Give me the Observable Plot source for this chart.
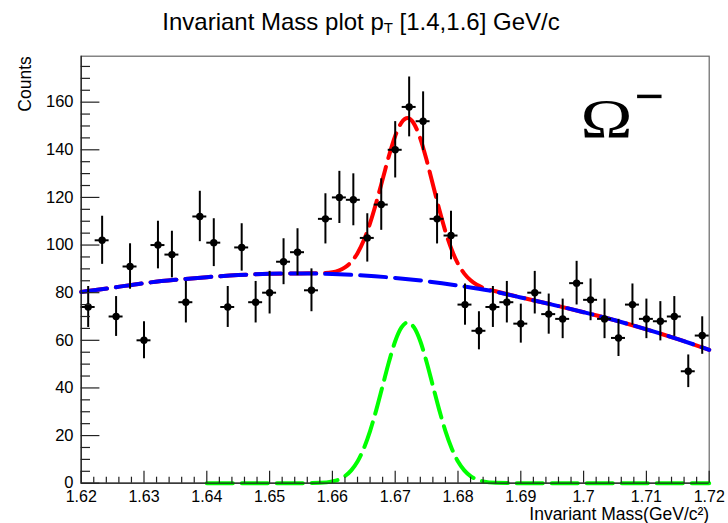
<!DOCTYPE html>
<html><head><meta charset="utf-8">
<script src="https://cdn.jsdelivr.net/npm/d3@7"></script>
<script src="https://cdn.jsdelivr.net/npm/@observablehq/plot@0.6"></script>
<style>body{margin:0;background:#fff} #chart{width:728px;height:523px}</style>
</head><body><div id="chart"></div>
<script>
// ---- data ----
const binLow = 1.62, binHigh = 1.72;
const counts = [74,102,70,91,60,100,96,76,112,101,74,99,76,80,93,97,81,111,120,119,103,117,140,158,152,111,104,75,64,74,76,67,80,71,69,84,77,69,61,75,69,68,70,47,62];

const bkgX = [1.620,1.625,1.630,1.635,1.640,1.645,1.650,1.655,1.660,1.665,1.670,1.675,1.680,1.685,1.690,1.695,1.700,1.705,1.710,1.715,1.720];
const bkgY = [80.3,82.1,84.0,85.4,86.5,87.4,87.9,88.1,87.8,87.2,86.2,84.8,83.0,80.9,78.0,75.0,71.8,68.4,64.6,60.5,56.0];

const totX = [1.620,1.625,1.630,1.635,1.640,1.645,1.650,1.655,1.658,1.660,1.661,1.662,1.663,1.664,1.665,1.666,1.667,1.668,1.669,1.670,1.671,1.672,1.673,1.674,1.675,1.676,1.677,1.678,1.679,1.680,1.681,1.682,1.683,1.684,1.686,1.690,1.695,1.700,1.705,1.710,1.715,1.720];
const totY = [80.3,82.1,84.0,85.4,86.5,87.4,87.9,88.1,88.2,88.6,89.3,90.6,92.9,96.6,102.0,109.2,118.0,127.6,137.4,145.8,151.4,153.3,150.9,144.7,135.7,125.4,115.1,105.7,98.0,92.1,88.0,85.2,83.3,82.1,80.6,78.0,75.0,71.8,68.4,64.6,60.5,56.0];

const sigX = [1.640,1.645,1.650,1.655,1.658,1.660,1.661,1.662,1.663,1.664,1.665,1.666,1.667,1.668,1.669,1.670,1.671,1.672,1.673,1.674,1.675,1.676,1.677,1.678,1.679,1.680,1.681,1.682,1.683,1.684,1.686,1.690,1.695,1.700,1.705,1.710,1.715,1.720];
const sigY = [0,0,0,0.02,0.15,0.75,1.5,3.0,5.4,9.1,14.6,21.9,30.9,40.9,50.9,59.6,65.4,67.5,65.4,59.6,50.9,40.9,30.9,21.9,14.6,9.1,5.4,3.0,1.5,0.75,0.15,0,0,0,0,0,0,0];

const xMajor = [1.62,1.63,1.64,1.65,1.66,1.67,1.68,1.69,1.70,1.71,1.72];
const xMajorLabels = ["1.62","1.63","1.64","1.65","1.66","1.67","1.68","1.69","1.7","1.71","1.72"];
const yMajor = [0,20,40,60,80,100,120,140,160];
const yMajorLabels = ["0","20","40","60","80","100","120","140","160"];

const titleText = "Invariant Mass plot p";
const titleSub = "T";
const titleRest = " [1.4,1.6] GeV/c";
const xTitle = "Invariant Mass(GeV/c²)";
const yTitle = "Counts";

// ---- derived tables ----
const w = (binHigh - binLow) / counts.length;
const bins = counts.map((n, i) => ({lo: binLow + i * w, hi: binLow + (i + 1) * w, mid: binLow + (i + 0.5) * w, n, err: Math.sqrt(n)}));
const bkg = bkgX.map((x, i) => ({x, y: bkgY[i]}));
const tot = totX.map((x, i) => ({x, y: totY[i]}));
const sig = sigX.map((x, i) => ({x, y: sigY[i]}));
const xMinor = d3.range(51).map(i => binLow + i * 0.002).filter((d, i) => i % 5 !== 0);
const yMinor = d3.range(0, 180, 5).filter(d => d % 20 !== 0);

const dash = "26,9";
const plot = Plot.plot({
  width: 728, height: 523,
  marginLeft: 80.7, marginRight: 19.3, marginTop: 55.7, marginBottom: 40.3,
  style: {fontFamily: "'Liberation Sans', Arial, sans-serif", fontSize: "16px", color: "#000", background: "#fff"},
  x: {domain: [binLow, binHigh]},
  y: {domain: [0, 179.3]},
  marks: [
    Plot.frame({stroke: "#666", strokeWidth: 1.2}),
    Plot.line(tot, {x: "x", y: "y", stroke: "#ff0000", strokeWidth: 4, strokeDasharray: dash, curve: "monotone-x"}),
    Plot.line(bkg, {x: "x", y: "y", stroke: "#0000ff", strokeWidth: 4, strokeDasharray: dash, curve: "monotone-x"}),
    Plot.line(sig, {x: "x", y: "y", stroke: "#00ff00", strokeWidth: 4, strokeDasharray: dash, curve: "monotone-x"}),
    Plot.ruleX(bins, {x: "mid", y1: d => d.n - d.err, y2: d => d.n + d.err, stroke: "#000", strokeWidth: 2}),
    Plot.ruleY(bins, {y: "n", x1: "lo", x2: "hi", stroke: "#000", strokeWidth: 2}),
    Plot.dot(bins, {x: "mid", y: "n", r: 3.7, fill: "#000", stroke: null}),
    Plot.axisX(xMinor, {tickSize: -6, tickFormat: () => "", label: null, stroke: "#222", strokeWidth: 1.2}),
    Plot.axisX(xMajor, {tickSize: -12, tickPadding: 19.5, tickFormat: (d, i) => xMajorLabels[i], label: null, fontSize: 16, stroke: "#222", strokeWidth: 1.2}),
    Plot.axisY(yMinor, {tickSize: -9.3, tickFormat: () => "", label: null, stroke: "#222", strokeWidth: 1.2}),
    Plot.axisY(yMajor, {tickSize: -18.7, tickPadding: 26.4, tickFormat: (d, i) => yMajorLabels[i], label: null, fontSize: 16.5, stroke: "#222", strokeWidth: 1.2}),
    Plot.ruleY([0], {stroke: "#222", strokeWidth: 1.3}),
    Plot.ruleX([binLow], {stroke: "#222", strokeWidth: 1.3}),
    Plot.text([xTitle], {text: d => d, frameAnchor: "bottom-right", dy: 36.5, textAnchor: "end", lineAnchor: "bottom", fontSize: 17.5}),
    Plot.text([yTitle], {text: d => d, frameAnchor: "top-left", dx: -50, textAnchor: "end", lineAnchor: "bottom", rotate: -90, fontSize: 17.5}),
    Plot.text(["Ω"], {text: d => d, frameAnchor: "top-left", dx: 499.3, dy: 81, textAnchor: "start", lineAnchor: "bottom", fontSize: 54, fontFamily: "'Liberation Serif', 'Times New Roman', serif", className: "omega"}),
    Plot.text(["−"], {text: d => d, frameAnchor: "top-left", dx: 553, dy: 57, textAnchor: "start", lineAnchor: "bottom", fontSize: 50, fontWeight: "bold", fontFamily: "'Liberation Serif', 'Times New Roman', serif", className: "minus"})
  ]
});
document.getElementById("chart").appendChild(plot);

const svg = d3.select(plot);
svg.select(".omega text").attr("textLength", 52).attr("lengthAdjust", "spacingAndGlyphs");
svg.select(".minus text").attr("textLength", 30).attr("lengthAdjust", "spacingAndGlyphs");
const t = svg.append("text").attr("x", 361).attr("y", 29.5).attr("text-anchor", "middle")
  .style("font-size", "24px").style("font-family", "'Liberation Sans', Arial, sans-serif").attr("fill", "#000");
t.append("tspan").text(titleText);
t.append("tspan").attr("dy", 3).style("font-size", "15px").text(titleSub);
t.append("tspan").attr("dy", -3).text(titleRest);
</script>
</body></html>
